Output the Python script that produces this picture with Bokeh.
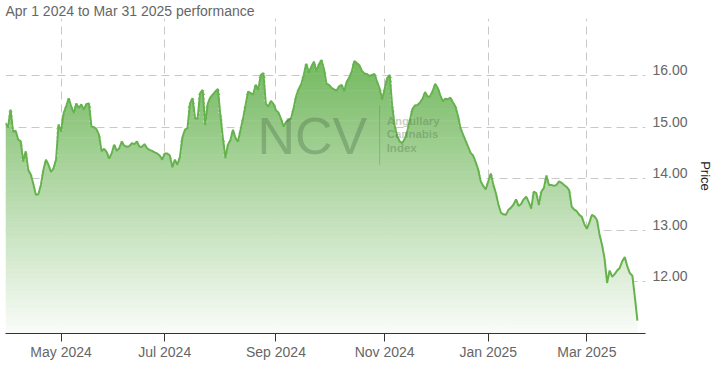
import numpy as np
from bokeh.plotting import figure
from bokeh.models import Range1d, FixedTicker, CustomJSTickFormatter, Label
from bokeh.embed import file_html
from bokeh.resources import INLINE

# ---- data ----
title_text = "Apr 1 2024 to Mar 31 2025 performance"

trading_days = {
    "2024-04": [1, 2, 3, 4, 5, 8, 9, 10, 11, 12, 15, 16, 17, 18, 19, 22, 23, 24, 25, 26, 29, 30],
    "2024-05": [1, 2, 3, 6, 7, 8, 9, 10, 13, 14, 15, 16, 17, 20, 21, 22, 23, 24, 28, 29, 30, 31],
    "2024-06": [3, 4, 5, 6, 7, 10, 11, 12, 13, 14, 17, 18, 20, 21, 24, 25, 26, 27, 28],
    "2024-07": [1, 2, 3, 5, 8, 9, 10, 11, 12, 15, 16, 17, 18, 19, 22, 23, 24, 25, 26, 29, 30, 31],
    "2024-08": [1, 2, 5, 6, 7, 8, 9, 12, 13, 14, 15, 16, 19, 20, 21, 22, 23, 26, 27, 28, 29, 30],
    "2024-09": [3, 4, 5, 6, 9, 10, 11, 12, 13, 16, 17, 18, 19, 20, 23, 24, 25, 26, 27, 30],
    "2024-10": [1, 2, 3, 4, 7, 8, 9, 10, 11, 14, 15, 16, 17, 18, 21, 22, 23, 24, 25, 28, 29, 30, 31],
    "2024-11": [1, 4, 5, 6, 7, 8, 11, 12, 13, 14, 15, 18, 19, 20, 21, 22, 25, 26, 27, 29],
    "2024-12": [2, 3, 4, 5, 6, 9, 10, 11, 12, 13, 16, 17, 18, 19, 20, 23, 24, 26, 27, 30, 31],
    "2025-01": [2, 3, 6, 7, 8, 10, 13, 14, 15, 16, 17, 21, 22, 23, 24, 27, 28, 29, 30, 31],
    "2025-02": [3, 4, 5, 6, 7, 10, 11, 12, 13, 14, 18, 19, 20, 21, 24, 25, 26, 27, 28],
    "2025-03": [3, 4, 5, 6, 7, 10, 11, 12, 13, 14, 17, 18, 19, 20, 21, 24, 25, 26, 27, 28, 31],
}

price_apr = [15.08, 14.99, 15.34, 14.91, 14.93, 14.76, 14.73, 14.33, 14.53, 14.17, 14.08,
             13.90, 13.69, 13.70, 13.88, 14.17, 14.37, 14.27, 14.13, 14.20, 14.37, 15.05]
price_may = [14.91, 15.27, 15.40, 15.56, 15.40, 15.27, 15.46, 15.37, 15.44, 15.34, 15.45,
             15.46, 15.01, 15.00, 14.96, 14.85, 14.53, 14.58, 14.52, 14.39, 14.49, 14.66]
price_jun = [14.54, 14.59, 14.72, 14.64, 14.62, 14.63, 14.69, 14.67, 14.72, 14.62, 14.62,
             14.67, 14.59, 14.56, 14.54, 14.51, 14.49, 14.45, 14.37]
price_jul = [14.49, 14.49, 14.45, 14.22, 14.37, 14.27, 14.42, 14.80, 14.95, 14.98, 15.46,
             15.56, 15.17, 15.16, 15.66, 15.72, 15.04, 15.45, 15.57, 15.63, 15.69, 15.74]
price_aug = [15.24, 14.79, 14.40, 14.66, 14.75, 14.95, 14.79, 14.72, 14.95, 15.17, 15.43,
             15.69, 15.66, 15.63, 15.82, 15.72, 16.01, 16.05, 15.45, 15.40, 15.51, 15.45]
price_sep = [15.33, 15.28, 15.16, 15.01, 15.10, 15.14, 15.17, 15.37, 15.60, 15.74, 15.83,
             16.01, 16.23, 16.05, 16.17, 16.27, 16.08, 16.22, 16.30, 16.12]
price_oct = [15.84, 15.82, 15.76, 15.73, 15.71, 15.79, 15.82, 15.69, 15.88, 15.96, 16.08,
             16.28, 16.24, 16.20, 16.09, 16.04, 16.03, 15.99, 16.01, 16.03, 15.88, 15.75, 15.53]
price_nov = [15.74, 15.95, 16.01, 15.40, 15.01, 14.82, 14.72, 14.69, 14.78, 14.93, 15.14,
             15.35, 15.42, 15.43, 15.48, 15.55, 15.68, 15.59, 15.60, 15.70]
price_dec = [15.84, 15.76, 15.62, 15.50, 15.55, 15.54, 15.57, 15.48, 15.40, 15.22, 14.98,
             14.86, 14.74, 14.62, 14.50, 14.45, 14.32, 14.18, 13.95, 13.86, 13.79]
price_jan = [13.95, 14.10, 13.88, 13.72, 13.50, 13.34, 13.31, 13.30, 13.40, 13.44, 13.50,
             13.60, 13.47, 13.51, 13.60, 13.65, 13.55, 13.42, 13.75, 13.72]
price_feb = [13.49, 13.75, 13.82, 14.06, 13.88, 13.88, 13.86, 13.88, 13.95, 13.92, 13.88,
             13.84, 13.78, 13.46, 13.40, 13.37, 13.30, 13.26, 13.12]
price_mar = [13.03, 13.15, 13.30, 13.27, 13.20, 12.92, 12.72, 12.45, 11.98, 12.22, 12.10,
             12.15, 12.22, 12.27, 12.40, 12.48, 12.30, 12.17, 12.12, 11.70, 11.25]

tick_months = ["2024-05", "2024-07", "2024-09", "2024-11", "2025-01", "2025-03"]
tick_labels = ["May 2024", "Jul 2024", "Sep 2024", "Nov 2024", "Jan 2025", "Mar 2025"]
price_ticks = [12, 13, 14, 15, 16]

# ---- assemble ----
dates = [f"{m}-{d:02d}" for m, days in trading_days.items() for d in days]
price = np.array(price_apr + price_may + price_jun + price_jul + price_aug + price_sep
                 + price_oct + price_nov + price_dec + price_jan + price_feb + price_mar)
xs = np.arange(len(dates))  # ordinal (trading-day) axis
tick_pos = [next(i for i, d in enumerate(dates) if d.startswith(m)) for m in tick_months]

FONT = "Liberation Sans"
Y0, Y1 = 11.0, 17.105
LABEL_LIFT = 0.105  # value labels sit a little above their grid lines

p = figure(frame_width=640, frame_height=315,
           x_range=Range1d(0, len(dates) - 1 + 3.2), y_range=Range1d(Y0, Y1),
           y_axis_location="right", output_backend="svg", toolbar_location=None,
           min_border_left=5, min_border_right=0, min_border_top=0, min_border_bottom=0,
           outline_line_color=None, background_fill_color="white")

p.title.text = title_text
p.title.align = "left"
p.title.text_font = FONT
p.title.text_font_size = "14px"
p.title.text_font_style = "normal"
p.title.text_color = "#666666"
p.title.offset = 0
p.title.standoff = 0

# gradient area (stacked thin bands)
top_rgb = np.array([116, 185, 96])
bot_rgb = np.array([250, 252, 249])
edges = np.linspace(Y0, Y1, 75)
for a, b in zip(edges[:-1], edges[1:]):
    mid = 0.5 * (a + b)
    t = np.clip((mid - 11.0) / (16.3 - 11.0), 0, 1)
    c = (bot_rgb + t * (top_rgb - bot_rgb)).round().astype(int)
    col = "#%02x%02x%02x" % tuple(c)
    top = np.clip(price, a, b + 0.01)
    p.varea(x=xs, y1=np.full(len(xs), a), y2=top, fill_color=col, fill_alpha=1.0)

# watermark
wm_color = "#3f5e3a"
p.add_layout(Label(x=121.4, y=14.82, text="NCV", text_font=FONT, text_font_size="52px",
                   text_color=wm_color, text_alpha=0.3, text_align="center",
                   text_baseline="middle"))
p.segment(x0=[148.0], y0=[15.42], x1=[148.0], y1=[14.27], line_color=wm_color,
          line_alpha=0.25, line_width=1)
for txt, yy in zip(["Angullary", "Cannabis", "Index"], [15.11, 14.86, 14.60]):
    p.add_layout(Label(x=150.8, y=yy, text=txt, text_font=FONT, text_font_size="11.5px",
                       text_font_style="bold", text_color=wm_color, text_alpha=0.3,
                       text_align="left", text_baseline="middle"))

p.line(xs, price, line_color="#66b24f", line_width=2)

# axes
xa = p.xaxis[0]
xa.ticker = FixedTicker(ticks=tick_pos)
xa.major_label_overrides = {pos: lab for pos, lab in zip(tick_pos, tick_labels)}
xa.axis_line_color = "#333333"
xa.major_tick_line_color = "#333333"
xa.major_tick_out = 8
xa.major_tick_in = 0
xa.minor_tick_line_color = None
xa.major_label_text_font = FONT
xa.major_label_text_font_size = "14px"
xa.major_label_text_color = "#666666"
xa.major_label_standoff = 2

ya = p.yaxis[0]
ya.ticker = FixedTicker(ticks=[v + LABEL_LIFT for v in price_ticks])
ya.formatter = CustomJSTickFormatter(code=f"return (tick - {LABEL_LIFT}).toFixed(2);")
ya.axis_line_color = None
ya.major_tick_line_color = None
ya.minor_tick_line_color = None
ya.major_tick_out = 0
ya.major_tick_in = 0
ya.major_label_standoff = 7
ya.major_label_text_font = FONT
ya.major_label_text_font_size = "14px"
ya.major_label_text_color = "#666666"
ya.axis_label = "Price"
ya.axis_label_text_font = FONT
ya.axis_label_text_font_size = "13px"
ya.axis_label_text_font_style = "normal"
ya.axis_label_text_color = "#222222"
ya.axis_label_standoff = 7

p.ygrid[0].ticker = FixedTicker(ticks=price_ticks)
for g in (p.xgrid[0], p.ygrid[0]):
    g.grid_line_color = "#c8c8c8"
    g.grid_line_dash = "8 5"
    g.grid_line_width = 1

open("out.html", "w").write(file_html(p, INLINE))
